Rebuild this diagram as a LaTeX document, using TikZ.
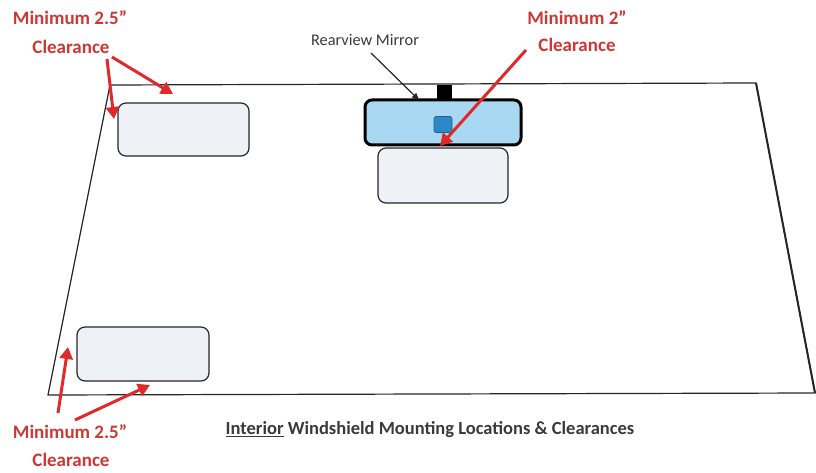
\documentclass[tikz,border=0pt]{standalone}
\usepackage{fontspec}
\setmainfont{Carlito}
\usetikzlibrary{arrows.meta}
\definecolor{clrred}{HTML}{CC3835}
\definecolor{arrred}{HTML}{E02A2A}
\definecolor{boxfill}{HTML}{EEF1F6}
\definecolor{mirfill}{HTML}{A9D8F2}
\definecolor{dotblue}{HTML}{2C88C8}
\definecolor{txtgray}{HTML}{3A3A3A}
\tikzset{
  padbox/.style={draw=black!85, line width=1.2pt, fill=boxfill, rounded corners=8pt, inner sep=0pt},
  redlabel/.style={text=clrred, font=\fontsize{19}{22}\selectfont\bfseries, inner sep=0pt},
  redarrow/.style={draw=arrred, line width=3pt, -{Triangle[length=12pt,width=13pt]}},
  glass/.style={draw=black!85, line width=1.2pt}
}
\begin{document}
\begin{tikzpicture}[x=1pt,y=-1pt]
\useasboundingbox (0,0) rectangle (816,473);
% windshield
\draw[glass] (110,85) -- (756,83) -- (815,393) -- (48,395) -- cycle;
\draw[black!85, line width=2pt] (756,83) -- (815,393);
% pads
\node[padbox, minimum width=131pt, minimum height=53pt] (padtl) at (183.5,129.5) {};
\node[padbox, minimum width=130pt, minimum height=55pt] (padmid) at (443,175.5) {};
\node[padbox, minimum width=132pt, minimum height=54pt] (padbl) at (143,354) {};
% mirror
\fill[black] (437,85) rectangle (452,100);
\node[draw=black, line width=3pt, fill=mirfill, rounded corners=7pt, minimum width=156pt, minimum height=45pt, inner sep=0pt] (mirror) at (443,122.5) {};
\node[fill=dotblue, draw=dotblue!70!black, line width=0.6pt, rounded corners=2pt, minimum width=18pt, minimum height=16pt, inner sep=0pt] (dot) at (443,124.5) {};
% labels
\node[redlabel] (tlmin) at (70,18) {Minimum 2.5”};
\node[redlabel] (tlclr) at (71,47) {Clearance};
\node[redlabel] (trmin) at (577,18) {Minimum 2”};
\node[redlabel] (trclr) at (577,45) {Clearance};
\node[redlabel] (blmin) at (70,432) {Minimum 2.5”};
\node[redlabel] (blclr) at (71,460) {Clearance};
\node[text=txtgray, font=\fontsize{16.3}{18}\selectfont, inner sep=0pt] (rvm) at (365,40) {Rearview Mirror};
\node[text=txtgray, font=\fontsize{18.5}{20}\selectfont\bfseries, inner sep=0pt] (caption) at (430,430) {\underline{Interior} Windshield Mounting Locations \& Clearances};
% arrow endpoints
\coordinate (t1) at (114,119);
\coordinate (t2) at (173,94);
\coordinate (t3) at (440,146);
\coordinate (t4) at (68,347);
\coordinate (t5) at (150,385);
\coordinate (t6) at (419,100);
% arrows
\draw[redarrow] (107,59) -- (t1);
\draw[redarrow] (112,57) -- (t2);
\draw[redarrow] (526,50) -- (t3);
\draw[redarrow] (58,413) -- (t4);
\draw[redarrow] (75,420) -- (t5);
\draw[black!85, line width=1.2pt, -{Triangle[length=7pt,width=6pt]}] (371,53) -- (t6);
\end{tikzpicture}
\end{document}
